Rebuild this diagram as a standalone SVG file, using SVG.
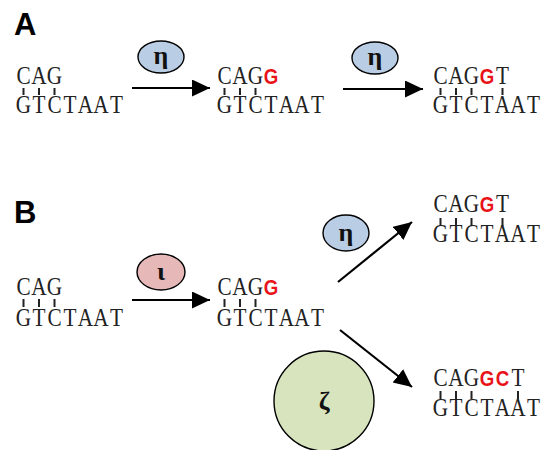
<svg xmlns="http://www.w3.org/2000/svg" width="548" height="450" viewBox="0 0 548 450">
<style>
.dna{font-family:Liberation Serif,Times New Roman,serif;font-size:25px;fill:#222;text-anchor:middle}
.red{font-family:Liberation Sans,Arial,sans-serif;font-weight:bold;fill:#e8141a;font-size:22px}
.lbl{font-family:Liberation Sans,Arial,sans-serif;font-weight:bold;font-size:31px;fill:#000}
.gk{font-family:Liberation Serif,Times New Roman,serif;font-weight:bold;font-size:26px;fill:#111;text-anchor:middle}
.tick{stroke:#222;stroke-width:2}
.arr{stroke:#000;stroke-width:2.2;fill:none}
.enz{stroke:#000;stroke-width:1.4}
</style>
<defs>
<marker id="ah" markerUnits="userSpaceOnUse" markerWidth="20" markerHeight="18" refX="18" refY="8.5" orient="auto">
<path d="M0,0 L18,8.5 L0,17 Z" fill="#000"/>
</marker>
</defs>
<text class="lbl" x="14" y="35">A</text>
<text class="lbl" x="14" y="223">B</text>

<g id="connectors">
<line class="arr" x1="132" y1="88" x2="210" y2="88" marker-end="url(#ah)"/>
<line class="arr" x1="343" y1="89" x2="423" y2="89" marker-end="url(#ah)"/>
<line class="arr" x1="132" y1="300" x2="210" y2="300" marker-end="url(#ah)"/>
<line class="arr" x1="338" y1="282" x2="412" y2="222" marker-end="url(#ah)"/>
<line class="arr" x1="340" y1="330" x2="412" y2="387" marker-end="url(#ah)"/>
</g>

<g id="enzA1">
<ellipse class="enz" cx="161" cy="57" rx="23" ry="16" fill="#b9cde5"/>
<text class="gk" x="161" y="64">η</text>
</g>
<g id="enzA2">
<ellipse class="enz" cx="375" cy="58" rx="23" ry="16" fill="#b9cde5"/>
<text class="gk" x="375" y="65">η</text>
</g>
<g id="enzB1">
<ellipse class="enz" cx="161" cy="272" rx="24" ry="18" fill="#e6b9b8"/>
<text class="gk" x="161" y="280">ι</text>
</g>
<g id="enzB2">
<ellipse class="enz" cx="346" cy="233" rx="23" ry="18" fill="#b9cde5"/>
<text class="gk" x="346" y="241">η</text>
</g>
<g id="enzB3">
<circle class="enz" cx="324" cy="401" r="50" fill="#d7e4bd"/>
<text class="gk" x="324" y="410" font-size="30">ζ</text>
</g>

<g id="dnaA1">
<text class="dna" transform="translate(16,0) scale(0.85,1)" x="8.824 27.059 45.294" y="84">CAG</text>
<path class="tick" d="M23.5,88v7M39,88v7M54.5,88v7"/>
<text class="dna" transform="translate(16,0) scale(0.85,1)" x="8.824 27.059 45.294 63.529 81.765 100 118.235" y="113">GTCTAAT</text>
</g>
<g id="dnaA2">
<text class="dna" transform="translate(217,0) scale(0.85,1)" x="8.824 27.059 45.294" y="84">CAG<tspan class="red" x="63.529">G</tspan></text>
<path class="tick" d="M224.5,88v7M240,88v7M255.5,88v7"/>
<text class="dna" transform="translate(217,0) scale(0.85,1)" x="8.824 27.059 45.294 63.529 81.765 100 118.235" y="113">GTCTAAT</text>
</g>
<g id="dnaA3">
<text class="dna" transform="translate(433,0) scale(0.85,1)" x="8.824 27.059 45.294" y="84">CAG<tspan class="red" x="63.529">G</tspan><tspan x="81.765">T</tspan></text>
<path class="tick" d="M440.5,88v7M456,88v7M471.5,88v7M502.5,88v7"/>
<text class="dna" transform="translate(433,0) scale(0.85,1)" x="8.824 27.059 45.294 63.529 81.765 100 118.235" y="113">GTCTAAT</text>
</g>
<g id="dnaB1">
<text class="dna" transform="translate(16,0) scale(0.85,1)" x="8.824 27.059 45.294" y="295">CAG</text>
<path class="tick" d="M23.5,299v8M39,299v8M54.5,299v8"/>
<text class="dna" transform="translate(16,0) scale(0.85,1)" x="8.824 27.059 45.294 63.529 81.765 100 118.235" y="326">GTCTAAT</text>
</g>
<g id="dnaB2">
<text class="dna" transform="translate(217,0) scale(0.85,1)" x="8.824 27.059 45.294" y="295">CAG<tspan class="red" x="63.529">G</tspan></text>
<path class="tick" d="M224.5,299v8M240,299v8M255.5,299v8"/>
<text class="dna" transform="translate(217,0) scale(0.85,1)" x="8.824 27.059 45.294 63.529 81.765 100 118.235" y="326">GTCTAAT</text>
</g>
<g id="dnaB3">
<text class="dna" transform="translate(433,0) scale(0.85,1)" x="8.824 27.059 45.294" y="212">CAG<tspan class="red" x="63.529">G</tspan><tspan x="81.765">T</tspan></text>
<path class="tick" d="M440.5,218v8M456,218v8M471.5,218v8M502.5,218v8"/>
<text class="dna" transform="translate(433,0) scale(0.85,1)" x="8.824 27.059 45.294 63.529 81.765 100 118.235" y="242">GTCTAAT</text>
</g>
<g id="dnaB4">
<text class="dna" transform="translate(433,0) scale(0.85,1)" x="8.824 27.059 45.294" y="386">CAG<tspan class="red" x="63.529 81.765">GC</tspan><tspan x="100">T</tspan></text>
<path class="tick" d="M440.5,391v8M456,391v8M471.5,391v8M518,391v8"/>
<text class="dna" transform="translate(433,0) scale(0.85,1)" x="8.824 27.059 45.294 63.529 81.765 100 118.235" y="416">GTCTAAT</text>
</g>
</svg>
